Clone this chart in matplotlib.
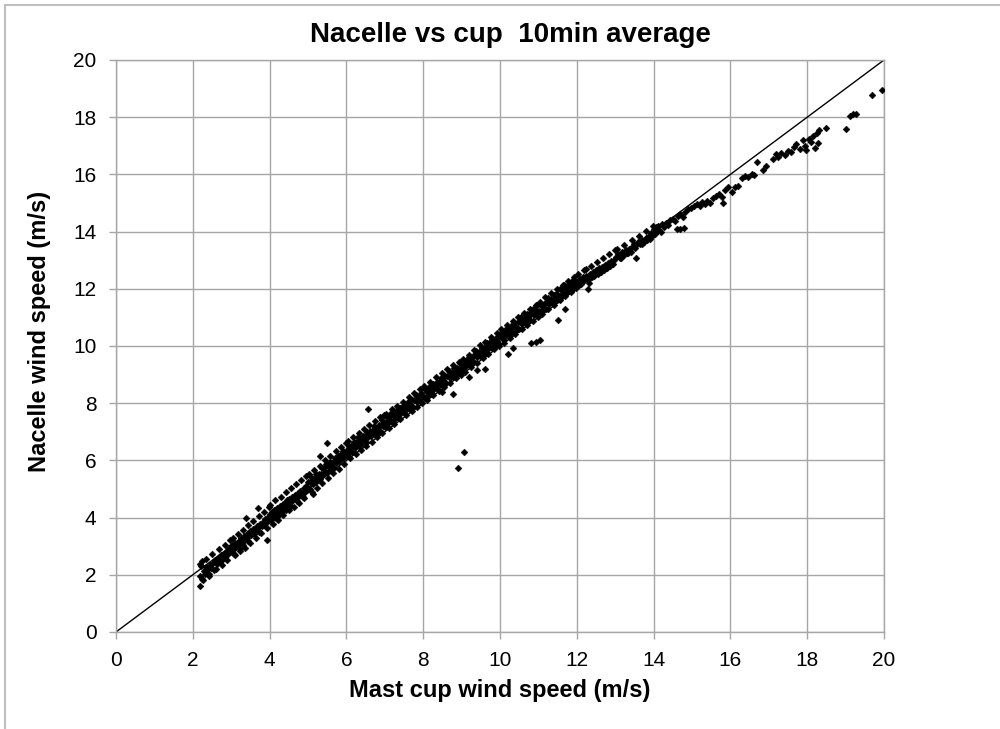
"""Nacelle vs mast cup wind speed, 10 min averages (scatter + 1:1 line)."""

import matplotlib

matplotlib.use("Agg")
import matplotlib.pyplot as plt
from matplotlib.patches import Rectangle

plt.rcParams["font.family"] = ["Liberation Sans", "DejaVu Sans"]

# Mast cup wind speed (m/s), grouped by 1 m/s bins
cup_2_3 = [2.18, 2.19, 2.21, 2.23, 2.25, 2.28, 2.31, 2.34, 2.37, 2.41, 2.44, 2.47, 2.52,
           2.55, 2.58, 2.62, 2.66, 2.70, 2.73, 2.77, 2.80, 2.84, 2.88, 2.91, 2.95, 2.98]
cup_3_4 = [3.01, 3.03, 3.06, 3.09, 3.11, 3.14, 3.17, 3.20, 3.22, 3.25, 3.28, 3.30, 3.33,
           3.36, 3.40, 3.42, 3.45, 3.48, 3.51, 3.54, 3.57, 3.60, 3.63, 3.66, 3.70, 3.72,
           3.75, 3.79, 3.82, 3.85, 3.88, 3.91, 3.93, 3.96, 3.99, 3.38, 3.71]
cup_4_5 = [4.01, 4.03, 4.06, 4.08, 4.11, 4.13, 4.16, 4.19, 4.21, 4.24, 4.27, 4.29, 4.32,
           4.35, 4.37, 4.40, 4.43, 4.46, 4.48, 4.51, 4.54, 4.57, 4.59, 4.62, 4.65, 4.68,
           4.71, 4.74, 4.77, 4.80, 4.83, 4.86, 4.89, 4.92, 4.95, 4.98]
cup_5_6 = [5.01, 5.04, 5.06, 5.09, 5.12, 5.14, 5.17, 5.20, 5.22, 5.25, 5.28, 5.31, 5.33,
           5.36, 5.39, 5.42, 5.45, 5.47, 5.50, 5.53, 5.56, 5.58, 5.61, 5.64, 5.67, 5.70,
           5.72, 5.75, 5.78, 5.81, 5.84, 5.87, 5.90, 5.92, 5.95, 5.98, 5.13, 5.30, 5.50]
cup_6_7 = [6.01, 6.03, 6.06, 6.08, 6.11, 6.14, 6.17, 6.19, 6.22, 6.25, 6.28, 6.31, 6.34,
           6.36, 6.39, 6.42, 6.45, 6.48, 6.51, 6.53, 6.56, 6.59, 6.62, 6.65, 6.68, 6.70,
           6.73, 6.76, 6.79, 6.82, 6.85, 6.88, 6.90, 6.93, 6.96, 6.99, 6.57]
cup_7_8 = [7.01, 7.04, 7.06, 7.09, 7.12, 7.15, 7.17, 7.20, 7.23, 7.26, 7.29, 7.31, 7.34,
           7.37, 7.40, 7.43, 7.46, 7.48, 7.51, 7.54, 7.57, 7.60, 7.62, 7.65, 7.68, 7.71,
           7.74, 7.77, 7.80, 7.83, 7.86, 7.88, 7.91, 7.94, 7.97]
cup_8_9 = [8.01, 8.04, 8.06, 8.09, 8.12, 8.15, 8.18, 8.20, 8.23, 8.26, 8.29, 8.32, 8.35,
           8.37, 8.40, 8.43, 8.46, 8.49, 8.52, 8.55, 8.57, 8.60, 8.63, 8.66, 8.69, 8.72,
           8.75, 8.78, 8.81, 8.84, 8.87, 8.90, 8.92, 8.95, 8.98, 8.50, 8.78, 8.90, 9.06]
cup_9_10 = [9.01, 9.04, 9.07, 9.09, 9.12, 9.15, 9.18, 9.21, 9.23, 9.26, 9.29, 9.32, 9.35,
            9.38, 9.40, 9.43, 9.46, 9.49, 9.52, 9.55, 9.58, 9.60, 9.63, 9.66, 9.69, 9.72,
            9.75, 9.78, 9.80, 9.83, 9.86, 9.89, 9.92, 9.95, 9.98, 9.20, 9.40, 9.60]
cup_10_11 = [10.01, 10.04, 10.07, 10.10, 10.13, 10.16, 10.19, 10.22, 10.25, 10.28, 10.31,
             10.34, 10.37, 10.40, 10.43, 10.46, 10.49, 10.52, 10.55, 10.58, 10.61, 10.64,
             10.67, 10.70, 10.73, 10.76, 10.79, 10.82, 10.85, 10.88, 10.91, 10.94, 10.97,
             10.20, 10.35, 10.80, 10.95, 11.05]
cup_11_12 = [11.01, 11.04, 11.07, 11.10, 11.13, 11.16, 11.19, 11.22, 11.25, 11.28, 11.31,
             11.34, 11.37, 11.40, 11.43, 11.46, 11.49, 11.52, 11.55, 11.58, 11.61, 11.64,
             11.67, 11.70, 11.73, 11.76, 11.79, 11.82, 11.85, 11.88, 11.91, 11.94, 11.97,
             11.50, 11.70]
cup_12_13 = [12.02, 12.06, 12.09, 12.13, 12.17, 12.20, 12.24, 12.28, 12.31, 12.35, 12.39,
             12.43, 12.46, 12.50, 12.54, 12.58, 12.62, 12.66, 12.70, 12.74, 12.78, 12.82,
             12.86, 12.90, 12.94, 12.98, 12.30, 12.25]
cup_13_14 = [13.03, 13.08, 13.12, 13.17, 13.22, 13.27, 13.31, 13.36, 13.41, 13.45, 13.50,
             13.55, 13.60, 13.64, 13.69, 13.74, 13.79, 13.84, 13.88, 13.93, 13.97, 13.55]
cup_14_15 = [14.00, 14.03, 14.06, 14.09, 14.12, 14.15, 14.18, 14.22, 14.27, 14.33, 14.38,
             14.44, 14.50, 14.57, 14.63, 14.70, 14.76, 14.83, 14.90, 14.97, 14.60, 14.70,
             14.80]
cup_15_16 = [15.05, 15.12, 15.20, 15.27, 15.33, 15.40, 15.47, 15.55, 15.62, 15.70, 15.78,
             15.85, 15.93, 15.80]
cup_16_17 = [16.05, 16.12, 16.20, 16.30, 16.38, 16.47, 16.55, 16.62, 16.70, 16.85, 16.93]
cup_17_18 = [17.10, 17.18, 17.25, 17.33, 17.42, 17.50, 17.58, 17.65, 17.72, 17.80, 17.88,
             17.93, 17.98]
cup_18_20 = [18.05, 18.10, 18.15, 18.20, 18.25, 18.28, 18.32, 18.50, 19.00, 19.12, 19.20,
             19.28, 19.68, 19.96]
# points at the edges of the scatter band
cup_edge = [2.20, 2.27, 2.35, 2.43, 2.50, 2.60, 2.68, 2.75, 2.83, 2.90, 2.97,
            3.04, 3.10, 3.18, 3.24, 3.31, 3.37, 3.44, 3.50, 3.58, 3.64, 3.72, 3.78, 3.85,
            3.92, 3.98,
            4.02, 4.09, 4.15, 4.22, 4.30, 4.36, 4.42, 4.50, 4.56, 4.63, 4.70, 4.76, 4.83,
            4.90, 4.96,
            5.03, 5.10, 5.16, 5.24, 5.30, 5.37, 5.44, 5.52, 5.58, 5.65, 5.72, 5.80, 5.86,
            5.93, 5.99,
            6.04, 6.10, 6.18, 6.24, 6.32, 6.38, 6.46, 6.52, 6.60, 6.66, 6.74, 6.80, 6.88,
            6.94, 6.98,
            7.03, 7.10, 7.18, 7.25, 7.32, 7.40, 7.47, 7.55, 7.62, 7.70, 7.77, 7.84, 7.92,
            7.98,
            8.03, 8.10, 8.17, 8.25, 8.33, 8.40, 8.48, 8.55, 8.62, 8.70, 8.77, 8.85, 8.92,
            8.98,
            9.03, 9.10, 9.18, 9.25, 9.33, 9.40, 9.48, 9.55, 9.62, 9.70, 9.77, 9.85, 9.92,
            9.98,
            10.03, 10.10, 10.18, 10.26, 10.33, 10.40, 10.48, 10.56, 10.63, 10.70, 10.78,
            10.86, 10.93, 10.99,
            11.03, 11.10, 11.18, 11.26, 11.33, 11.40, 11.48, 11.56, 11.63, 11.70, 11.78,
            11.86, 11.93, 11.99,
            12.04, 12.12, 12.20, 12.28, 12.36, 12.44, 12.52, 12.60, 12.68, 12.76, 12.84,
            12.92, 12.99,
            13.05, 13.14, 13.24, 13.33, 13.43, 13.52, 13.62, 13.71, 13.80, 13.90, 13.98]

# Nacelle wind speed (m/s), same order as above
nac_2_3 = [1.62, 1.95, 2.31, 2.48, 1.84, 2.12, 2.03, 2.26, 2.18, 1.97, 2.35, 2.22, 2.41,
           2.17, 2.52, 2.38, 2.57, 2.46, 2.69, 2.51, 2.74, 2.63, 2.82, 2.71, 2.93, 2.78]
nac_3_4 = [2.86, 3.04, 2.72, 2.95, 3.12, 2.99, 3.08, 3.19, 2.91, 3.27, 3.15, 3.05, 3.34,
           3.22, 3.41, 3.29, 3.18, 3.52, 3.38, 3.47, 3.61, 3.43, 3.56, 3.70, 3.64, 3.51,
           3.78, 3.69, 3.86, 3.74, 3.95, 3.82, 3.20, 4.01, 3.90, 3.98, 4.33]
nac_4_5 = [4.12, 3.91, 4.20, 4.03, 4.28, 4.14, 3.98, 4.33, 4.22, 4.09, 4.41, 4.30, 4.18,
           4.47, 4.36, 4.52, 4.27, 4.60, 4.44, 4.66, 4.55, 4.42, 4.71, 4.63, 4.80, 4.69,
           4.57, 4.86, 4.77, 4.93, 4.84, 4.71, 5.02, 4.90, 5.10, 4.97]
nac_5_6 = [5.23, 5.01, 5.24, 5.41, 5.19, 5.29, 5.38, 5.24, 5.52, 5.39, 5.54, 5.34, 5.53,
           5.72, 5.50, 5.73, 5.60, 5.87, 5.57, 5.79, 5.68, 5.93, 5.82, 5.96, 5.74, 6.10,
           5.91, 6.02, 6.16, 5.97, 6.18, 6.11, 6.34, 6.08, 6.27, 6.19, 4.82, 6.15, 6.60]
nac_6_7 = [6.37, 6.21, 6.50, 6.35, 6.50, 6.29, 6.49, 6.66, 6.44, 6.66, 6.53, 6.80, 6.50,
           6.70, 6.59, 6.85, 6.73, 6.86, 6.64, 6.98, 6.80, 6.90, 7.04, 6.84, 7.05, 6.96,
           7.19, 6.93, 7.12, 7.03, 7.25, 7.02, 7.25, 7.41, 7.19, 7.29, 7.80]
nac_7_8 = [7.15, 7.35, 7.52, 7.30, 7.52, 7.39, 7.65, 7.35, 7.56, 7.45, 7.71, 7.58, 7.71,
           7.49, 7.84, 7.66, 7.76, 7.89, 7.69, 7.90, 7.82, 8.05, 7.78, 7.97, 7.88, 8.10,
           7.87, 8.11, 8.27, 8.05, 8.15, 8.23, 8.08, 8.37, 8.23]
nac_8_9 = [8.23, 8.50, 8.19, 8.40, 8.29, 8.55, 8.43, 8.55, 8.33, 8.68, 8.50, 8.60, 8.74,
           8.53, 8.74, 8.66, 8.89, 8.63, 8.82, 8.73, 8.94, 8.71, 8.95, 9.11, 8.89, 8.99,
           9.08, 8.93, 9.22, 9.08, 9.23, 9.02, 9.21, 9.39, 9.17, 8.40, 8.32, 5.73, 6.29]
nac_9_10 = [9.22, 9.32, 9.46, 9.25, 9.46, 9.38, 9.61, 9.35, 9.53, 9.44, 9.66, 9.43, 9.67,
            9.83, 9.60, 9.70, 9.79, 9.64, 9.93, 9.79, 9.94, 9.72, 9.92, 10.10, 9.88, 10.10,
            9.97, 10.24, 9.93, 10.14, 10.03, 10.29, 10.17, 10.30, 10.08, 8.90, 9.15, 9.20]
nac_10_11 = [10.41, 10.29, 10.42, 10.20, 10.55, 10.37, 10.47, 10.61, 10.41, 10.62, 10.54,
             10.77, 10.51, 10.70, 10.61, 10.83, 10.60, 10.84, 11.00, 10.78, 10.88, 10.97,
             10.82, 11.11, 10.97, 11.12, 10.91, 11.11, 11.29, 11.07, 11.29, 11.16, 11.43,
             9.72, 9.93, 10.12, 10.15, 10.20]
nac_11_12 = [11.23, 11.46, 11.20, 11.39, 11.30, 11.52, 11.29, 11.53, 11.69, 11.47, 11.57,
             11.66, 11.51, 11.80, 11.66, 11.81, 11.60, 11.80, 11.98, 11.76, 11.98, 11.85,
             12.12, 11.82, 12.03, 11.92, 12.18, 12.06, 12.19, 11.97, 12.32, 12.14, 12.24,
             10.90, 11.30]
nac_12_13 = [12.27, 12.14, 12.33, 12.22, 12.40, 12.29, 12.45, 12.34, 12.21, 12.52, 12.42,
             12.58, 12.47, 12.64, 12.53, 12.71, 12.60, 12.77, 12.66, 12.83, 12.72, 12.90,
             12.79, 12.96, 12.85, 13.02, 12.00, 12.70]
nac_13_14 = [13.12, 13.21, 13.06, 13.27, 13.17, 13.34, 13.24, 13.40, 13.30, 13.47, 13.58,
             13.52, 13.64, 13.55, 13.71, 13.62, 13.79, 13.70, 13.86, 13.94, 13.85, 13.07]
nac_14_15 = [14.08, 13.92, 14.15, 14.02, 14.20, 14.07, 13.98, 14.25, 14.15, 14.30, 14.22,
             14.40, 14.45, 14.38, 14.55, 14.60, 14.50, 14.70, 14.78, 14.82, 14.10, 14.10,
             14.12]
nac_15_16 = [14.88, 14.95, 14.90, 15.02, 14.98, 15.08, 15.00, 15.18, 15.25, 15.30, 15.22,
             15.45, 15.55, 15.00]
nac_16_17 = [15.40, 15.55, 15.60, 15.88, 15.95, 15.90, 16.00, 15.98, 16.42, 16.15, 16.30]
nac_17_18 = [16.55, 16.70, 16.62, 16.75, 16.68, 16.82, 16.78, 16.95, 17.05, 16.90, 17.20,
             17.00, 16.85]
nac_18_20 = [17.25, 17.12, 17.35, 16.92, 17.45, 17.10, 17.55, 17.62, 17.60, 18.05, 18.10,
             18.12, 18.78, 18.95]
nac_edge = [2.38, 1.82, 2.55, 2.02, 2.72, 2.20, 2.90, 2.33, 3.05, 2.50, 3.20,
            3.30, 2.68, 3.42, 2.82, 3.58, 2.95, 3.75, 3.10, 3.88, 3.28, 4.05, 3.45, 4.20,
            3.62, 4.38,
            4.45, 3.78, 4.60, 3.92, 4.72, 4.10, 4.88, 4.25, 5.02, 4.38, 5.18, 4.52, 5.30,
            4.70, 5.45,
            5.52, 4.88, 5.68, 5.05, 5.82, 5.20, 6.00, 5.38, 6.15, 5.55, 6.32, 5.70, 6.48,
            5.88, 6.62,
            6.68, 6.08, 6.82, 6.22, 6.95, 6.38, 7.10, 6.52, 7.22, 6.65, 7.38, 6.80, 7.50,
            6.95, 7.60,
            7.62, 7.12, 7.78, 7.28, 7.90, 7.45, 8.05, 7.58, 8.20, 7.72, 8.35, 7.88, 8.48,
            8.02,
            8.60, 8.12, 8.75, 8.28, 8.90, 8.42, 9.05, 8.58, 9.18, 8.72, 9.32, 8.88, 9.45,
            9.00,
            9.55, 9.10, 9.70, 9.25, 9.85, 9.40, 10.02, 9.58, 10.15, 9.72, 10.30, 9.88,
            10.45, 10.00,
            10.58, 10.12, 10.72, 10.28, 10.86, 10.42, 11.02, 10.58, 11.15, 10.72, 11.30,
            10.88, 11.45, 11.02,
            11.55, 11.12, 11.70, 11.30, 11.84, 11.45, 11.98, 11.60, 12.12, 11.75, 12.26,
            11.88, 12.40, 12.02,
            12.50, 12.15, 12.64, 12.30, 12.78, 12.44, 12.92, 12.58, 13.06, 12.72, 13.20,
            12.87, 13.34,
            13.38, 13.08, 13.54, 13.25, 13.70, 13.42, 13.86, 13.58, 14.02, 13.74, 14.18]

cup_speed = (cup_2_3 + cup_3_4 + cup_4_5 + cup_5_6 + cup_6_7 + cup_7_8 + cup_8_9
             + cup_9_10 + cup_10_11 + cup_11_12 + cup_12_13 + cup_13_14 + cup_14_15
             + cup_15_16 + cup_16_17 + cup_17_18 + cup_18_20 + cup_edge)
nacelle_speed = (nac_2_3 + nac_3_4 + nac_4_5 + nac_5_6 + nac_6_7 + nac_7_8 + nac_8_9
                 + nac_9_10 + nac_10_11 + nac_11_12 + nac_12_13 + nac_13_14 + nac_14_15
                 + nac_15_16 + nac_16_17 + nac_17_18 + nac_18_20 + nac_edge)

# 1:1 reference line
ref_line = [0, 20]
ticks = list(range(0, 21, 2))

GRID = "#a6a6a6"

fig = plt.figure(figsize=(10, 7.29), dpi=100)
ax = fig.add_axes([0.116, 0.1331, 0.768, 0.7846])

ax.plot(ref_line, ref_line, color="black", lw=1.0, zorder=2)
ax.plot(cup_speed, nacelle_speed, linestyle="none", marker="D", ms=3.5,
        mfc="black", mec="black", mew=0.3, zorder=3)

ax.set_xlim(0, 20)
ax.set_ylim(0, 20)
ax.set_xticks(ticks)
ax.set_yticks(ticks)
ax.grid(True, color=GRID, lw=1.0, zorder=0)
ax.set_axisbelow(True)
for sp in ax.spines.values():
    sp.set_color(GRID)
    sp.set_linewidth(1.0)
ax.tick_params(direction="out", length=5, width=1.0, color=GRID,
               labelsize=15, pad=9)

fig.text(0.51, 1 - 35 / 729, "Nacelle vs cup  10min average", ha="center",
         va="center", fontsize=20, fontweight="bold")
fig.text(0.5, 1 - 690 / 729, "Mast cup wind speed (m/s)", ha="center",
         va="center", fontsize=17, fontweight="bold")
fig.text(0.04, 1 - 331 / 729, "Nacelle wind speed (m/s)", ha="center",
         va="center", rotation=90, fontsize=17, fontweight="bold")

# chart-area border (runs off the right and bottom of the picture)
fig.patches.append(Rectangle((5 / 1000, -0.05), 1.2, 1 - 5 / 729 + 0.05,
                             transform=fig.transFigure, fill=False,
                             edgecolor="#bfbfbf", lw=1.5))

fig.savefig("out.png", dpi=100)
